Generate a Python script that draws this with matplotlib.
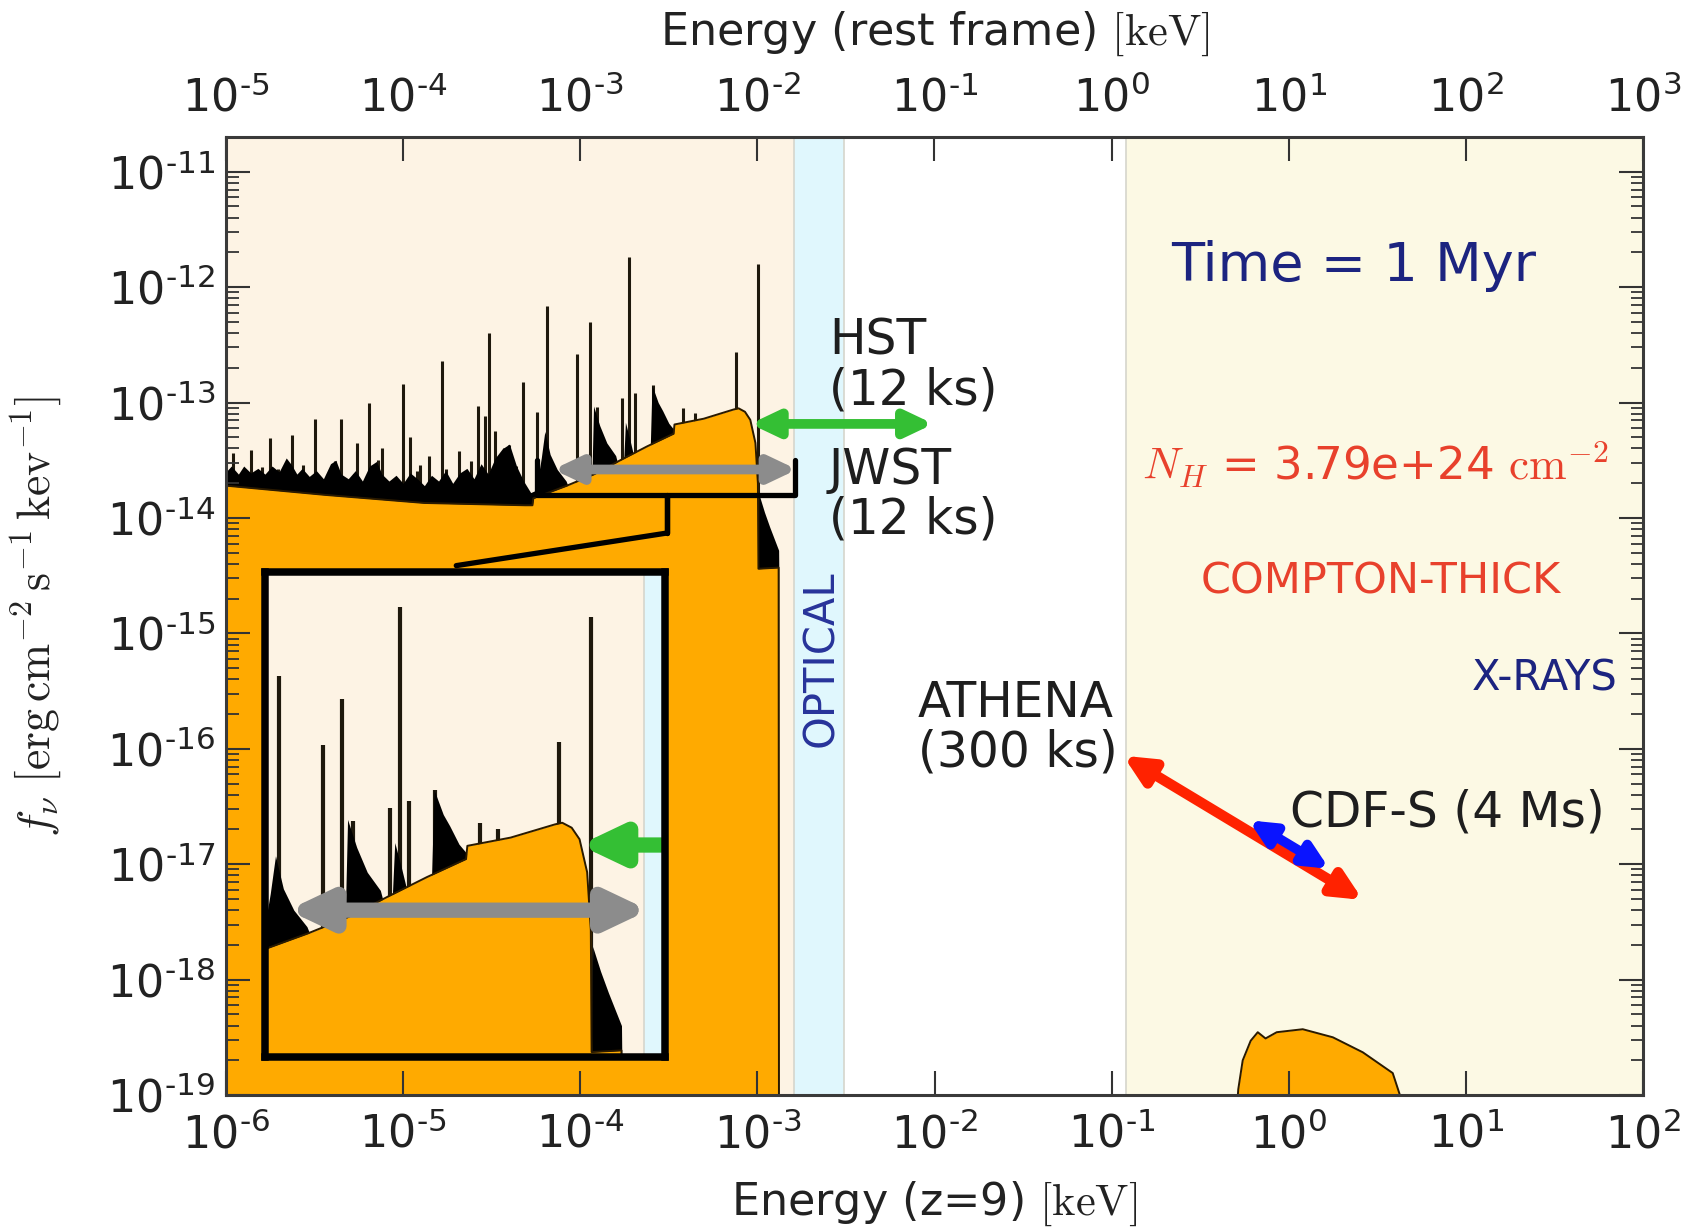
import numpy as np
import matplotlib
matplotlib.use("Agg")
import matplotlib.pyplot as plt
from matplotlib.ticker import LogLocator, NullLocator, NullFormatter, FuncFormatter
from matplotlib.patches import FancyArrowPatch

plt.rcParams['mathtext.fontset'] = 'cm'
plt.rcParams['font.family'] = ['DejaVu Sans']
plt.rcParams['axes.unicode_minus'] = False

# ---------------- data (log10 values) ----------------
# continuum of the IR/optical spectrum (observed energy, keV ; f_nu)
cont_logE = [-6.00, -5.44, -4.88, -4.31, -4.27, -4.265, -4.075, -3.92, -3.774, -3.623,
             -3.473, -3.468, -3.303, -3.134, -3.106, -3.07, -3.04, -3.011, -2.997, -2.994,
             -2.88, -2.878]
cont_logF = [-13.72, -13.80, -13.87, -13.89, -13.89, -13.83, -13.72, -13.62, -13.50, -13.38,
             -13.27, -13.19, -13.14, -13.06, -13.05, -13.08, -13.15, -13.35, -13.70, -14.44,
             -14.43, -19.5]

# dense line forest (upper envelope of the black band)
forest_logE = [-6.00, -5.97, -5.93, -5.90, -5.86, -5.82, -5.78, -5.74, -5.70, -5.66,
               -5.63, -5.60, -5.57, -5.53, -5.49, -5.45, -5.41, -5.38, -5.35, -5.31,
               -5.27, -5.23, -5.19, -5.15, -5.12, -5.08, -5.04, -5.00, -4.96, -4.92,
               -4.88, -4.84, -4.80, -4.76, -4.72, -4.68, -4.64, -4.60, -4.56, -4.52,
               -4.48, -4.44, -4.40, -4.36, -4.32, -4.28,
               -4.25, -4.22, -4.20, -4.17, -4.13, -4.08, -4.06, -3.935, -3.925, -3.89,
               -3.85, -3.80, -3.79, -3.755, -3.745, -3.72, -3.70, -3.605, -3.595, -3.56,
               -3.535, -3.50, -3.463, -3.455]
forest_logF = [-13.60, -13.55, -13.62, -13.55, -13.61, -13.57, -13.62, -13.55, -13.60, -13.48,
               -13.54, -13.62, -13.57, -13.64, -13.59, -13.66, -13.53, -13.50, -13.62, -13.66,
               -13.59, -13.68, -13.55, -13.51, -13.62, -13.68, -13.63, -13.70, -13.61, -13.66,
               -13.72, -13.63, -13.68, -13.59, -13.70, -13.61, -13.57, -13.66, -13.53, -13.62,
               -13.48, -13.40, -13.36, -13.55, -13.68, -13.78,
               -13.76, -13.48, -13.25, -13.45, -13.58, -13.68, -13.76, -13.70, -13.03, -13.20,
               -13.35, -13.46, -13.52, -13.52, -13.17, -13.32, -13.45, -13.40, -12.85, -13.00,
               -13.07, -13.18, -13.25, -13.30]

# forest just above the Lyman edge
edge_logE = [-2.994, -2.990, -2.96, -2.93, -2.90, -2.88, -2.879]
edge_logF = [-14.44, -13.80, -13.95, -14.08, -14.20, -14.28, -14.43]

# emission lines
line_logE = [-5.959, -5.915, -5.859, -5.795, -5.750, -5.704, -5.629, -5.567, -5.500, -5.410,
             -5.384, -5.352, -5.280, -5.262, -5.190, -5.140, -5.120, -5.002, -4.964, -4.920,
             -4.904, -4.853, -4.781, -4.760, -4.682, -4.660, -4.616, -4.575, -4.537, -4.514,
             -4.484, -4.430, -4.400, -4.360, -4.324, -4.245, -4.185, -4.019, -3.947, -3.904,
             -3.765, -3.725, -3.690, -3.590, -3.420, -3.350, -3.120, -2.996]
line_logF = [-13.44, -13.64, -13.41, -13.56, -13.31, -13.58, -13.28, -13.54, -13.14, -13.62,
             -13.51, -13.14, -13.62, -13.35, -13.00, -13.50, -13.39, -12.84, -13.30, -13.59,
             -13.54, -13.46, -12.64, -13.58, -13.42, -13.62, -13.51, -13.03, -13.12, -12.40,
             -13.25, -13.39, -13.37, -13.55, -12.82, -13.08, -12.16, -12.58, -12.30, -13.04,
             -12.96, -11.74, -12.92, -12.85, -13.05, -13.09, -12.56, -11.80]

# X-ray component
xray_logE = [-0.311, -0.285, -0.26, -0.215, -0.175, -0.131, -0.068, 0.079, 0.249, 0.418, 0.587, 0.734]
xray_logF = [-19.5, -18.95, -18.70, -18.53, -18.456, -18.51, -18.456, -18.43, -18.50, -18.63, -18.81, -19.5]

# spectral bands (observed keV)
band_ir = [1e-6, 1.6e-3]
band_opt = [1.6e-3, 3.1e-3]
band_x = [0.12, 1e2]

# instrument sensitivity arrows: (logE0, logE1, logF0, logF1)
hst_arrow = [-3.04, -2.006, -13.185, -13.185]
jwst_arrow = [-4.153, -2.776, -13.58, -13.58]
athena_arrow = [-0.935, 0.418, -16.06, -17.31]
cdfs_arrow = [-0.226, 0.229, -16.62, -17.04]

# zoom bracket
brace_logE = [-4.245, -4.245, -3.508, -3.508, -3.508, -2.785, -2.785]
brace_logF = [-13.50, -13.80, -13.80, -14.13, -13.80, -13.80, -13.50]
link_logE = [-3.508, -4.70]
link_logF = [-14.13, -14.413]

inset_xlim = [-4.24, -2.714]
inset_ylim = [-14.47, -11.53]

ORANGE = '#ffaa00'
PEACH = '#fdf3e4'
CYAN = '#e0f7fd'
XYEL = '#fcf9e4'
NAVY = '#1c2480'
RED = '#e8412c'
FLOOR = 10 ** -19.5


def P(a):
    return 10.0 ** np.asarray(a, dtype=float)


def pow_fmt(v, pos):
    if v <= 0:
        return ''
    e = int(round(np.log10(v)))
    s = ('\u2010' + str(-e)) if e < 0 else str(e)
    return r'$\mathdefault{10^{%s}}$' % s


def draw_bands(ax):
    ax.axvspan(*band_ir, color=PEACH, lw=0, zorder=0)
    ax.axvspan(*band_opt, color=CYAN, lw=0, zorder=0)
    ax.axvspan(*band_x, color=XYEL, lw=0, zorder=0)
    for x in (band_opt[0], band_opt[1], band_x[0]):
        ax.axvline(x, color='#d6d6cc', lw=1.2, zorder=0.5)


def draw_spectrum(ax, lw_line=2.2):
    ax.vlines(P(line_logE), FLOOR, P(line_logF), color='#1e180c', lw=lw_line, zorder=2)
    ax.fill_between(P(forest_logE), FLOOR, P(forest_logF), color='black', lw=0, zorder=2)
    ax.fill_between(P(edge_logE), FLOOR, P(edge_logF), color='black', lw=0, zorder=2)
    ax.fill_between(P(cont_logE), FLOOR, P(cont_logF), color=ORANGE, lw=0, zorder=3)
    ax.plot(P(cont_logE), P(cont_logF), color='#2a1a00', lw=1.4, zorder=4)
    ax.fill_between(P(xray_logE), FLOOR, P(xray_logF), color=ORANGE, lw=0, zorder=3)
    ax.plot(P(xray_logE), P(xray_logF), color='#2a1a00', lw=1.4, zorder=4)


def draw_arrow(ax, a, color, lw=7, ms=20):
    p = FancyArrowPatch((P(a[0]), P(a[2])), (P(a[1]), P(a[3])),
                        arrowstyle='<|-|>,head_length=0.8,head_width=0.38',
                        mutation_scale=ms, lw=lw, color=color, shrinkA=0, shrinkB=0,
                        joinstyle='round', capstyle='round', zorder=6)
    ax.add_patch(p)


fig = plt.figure(figsize=(16.87, 12.30), dpi=100)
ax = fig.add_axes([226 / 1687, 1 - 1095 / 1230, (1643 - 226) / 1687, (1095 - 137) / 1230])
ax.set_xscale('log')
ax.set_yscale('log')
ax.set_xlim(1e-6, 1e2)
ax.set_ylim(1e-19, 2e-11)

draw_bands(ax)
draw_spectrum(ax)
draw_arrow(ax, hst_arrow, '#34bf34')
draw_arrow(ax, jwst_arrow, '#8c8c8c')
draw_arrow(ax, athena_arrow, '#ff2200', lw=7.5, ms=21)
draw_arrow(ax, cdfs_arrow, '#0a14ff', lw=7, ms=18)

ax.plot(P(brace_logE), P(brace_logF), color='black', lw=3.8, solid_joinstyle='round',
        solid_capstyle='round', zorder=7)
ax.plot(P(link_logE), P(link_logF), color='black', lw=3.8, solid_capstyle='round', zorder=7)

# ticks
ax.xaxis.set_major_locator(LogLocator(base=10, numticks=30))
ax.xaxis.set_minor_locator(NullLocator())
ax.xaxis.set_major_formatter(FuncFormatter(pow_fmt))
ax.yaxis.set_major_locator(LogLocator(base=10, numticks=30))
ax.yaxis.set_minor_locator(LogLocator(base=10, subs=np.arange(2, 10), numticks=200))
ax.yaxis.set_minor_formatter(NullFormatter())
ax.yaxis.set_major_formatter(FuncFormatter(pow_fmt))
ax.tick_params(axis='both', which='major', direction='in', length=17, width=1.5,
               labelsize=32, colors='#333333', labelcolor='#222222')
ax.tick_params(axis='x', which='major', top=False, bottom=True, pad=13)
ax.tick_params(axis='y', which='both', left=True, right=True, pad=8)
ax.tick_params(axis='y', which='minor', direction='in', length=9, width=1.3, colors='#333333')
for s in ax.spines.values():
    s.set_color('#3a3a3a')
    s.set_linewidth(2.2)
    s.set_zorder(12)
ax.xaxis.set_zorder(11)
ax.yaxis.set_zorder(11)

sec = ax.secondary_xaxis('top', functions=(lambda x: x * 10.0, lambda x: x / 10.0))
sec.xaxis.set_major_locator(LogLocator(base=10, numticks=30))
sec.xaxis.set_minor_locator(NullLocator())
sec.xaxis.set_major_formatter(FuncFormatter(pow_fmt))
sec.tick_params(axis='x', which='major', direction='in', length=17, width=1.5,
                labelsize=32, colors='#333333', labelcolor='#222222', pad=12)

ax.set_xlabel(r'Energy (z=9) $[\mathrm{keV}]$', fontsize=32, color='#222222')
ax.xaxis.set_label_coords(0.5, -0.088)
ax.set_ylabel(r'$f_{\nu}\ [\mathrm{erg\,cm^{-2}\,s^{-1}\,kev^{-1}}]$', fontsize=33, color='#222222')
ax.yaxis.set_label_coords(-0.114, 0.5)
fig.text(934.5 / 1687, 1 - 58 / 1230, r'Energy (rest frame) $[\mathrm{keV}]$',
         ha='center', va='bottom', fontsize=32, color='#222222')

# annotations
tc = '#1e1e1e'
ax.text(P(-2.596), P(-12.68), 'HST\n(12 ks)', fontsize=35, ha='left', va='center',
        linespacing=1.05, color=tc, zorder=8)
ax.text(P(-2.596), P(-13.80), 'JWST\n(12 ks)', fontsize=35, ha='left', va='center',
        linespacing=1.05, color=tc, zorder=8)
ax.text(P(-0.966), P(-15.82), 'ATHENA\n(300 ks)', fontsize=35, ha='right', va='center',
        multialignment='left', linespacing=1.05, color=tc, zorder=8)
ax.text(P(0.006), P(-16.55), 'CDF-S (4 Ms)', fontsize=35, ha='left', va='center',
        color=tc, zorder=8)
ax.text(P(0.367), P(-11.82), 'Time = 1 Myr', fontsize=39, ha='center', va='center',
        color=NAVY, zorder=8)
ax.text(P(0.486), P(-13.54), r'$N_H$ = 3.79e+24 $\mathrm{cm}^{-2}$', fontsize=32.5,
        ha='center', va='center', color=RED, zorder=8)
ax.text(P(0.52), P(-14.55), 'COMPTON-THICK', fontsize=31, ha='center', va='center',
        color=RED, zorder=8)
ax.text(P(1.447), P(-15.39), 'X-RAYS', fontsize=30, ha='center', va='center',
        color=NAVY, zorder=8)
ax.text(P(-2.64), P(-15.22), 'OPTICAL', fontsize=30, ha='center', va='center',
        rotation=90, color='#27339a', zorder=8)

# inset zoom
ins = fig.add_axes([265 / 1687, 1 - 1057 / 1230, 400 / 1687, 485 / 1230], zorder=10)
ins.set_xscale('log')
ins.set_yscale('log')
ins.set_xlim(P(inset_xlim[0]), P(inset_xlim[1]))
ins.set_ylim(P(inset_ylim[0]), P(inset_ylim[1]))
draw_bands(ins)
draw_spectrum(ins, lw_line=3.0)
draw_arrow(ins, hst_arrow, '#34bf34', lw=11, ms=30)
draw_arrow(ins, jwst_arrow, '#8c8c8c', lw=11, ms=30)
ins.xaxis.set_major_locator(NullLocator())
ins.xaxis.set_minor_locator(NullLocator())
ins.yaxis.set_major_locator(NullLocator())
ins.yaxis.set_minor_locator(NullLocator())
for s in ins.spines.values():
    s.set_color('black')
    s.set_linewidth(5.4)
    s.set_joinstyle('round')
    s.set_zorder(20)

fig.savefig('out.png', dpi=100, facecolor='white')
